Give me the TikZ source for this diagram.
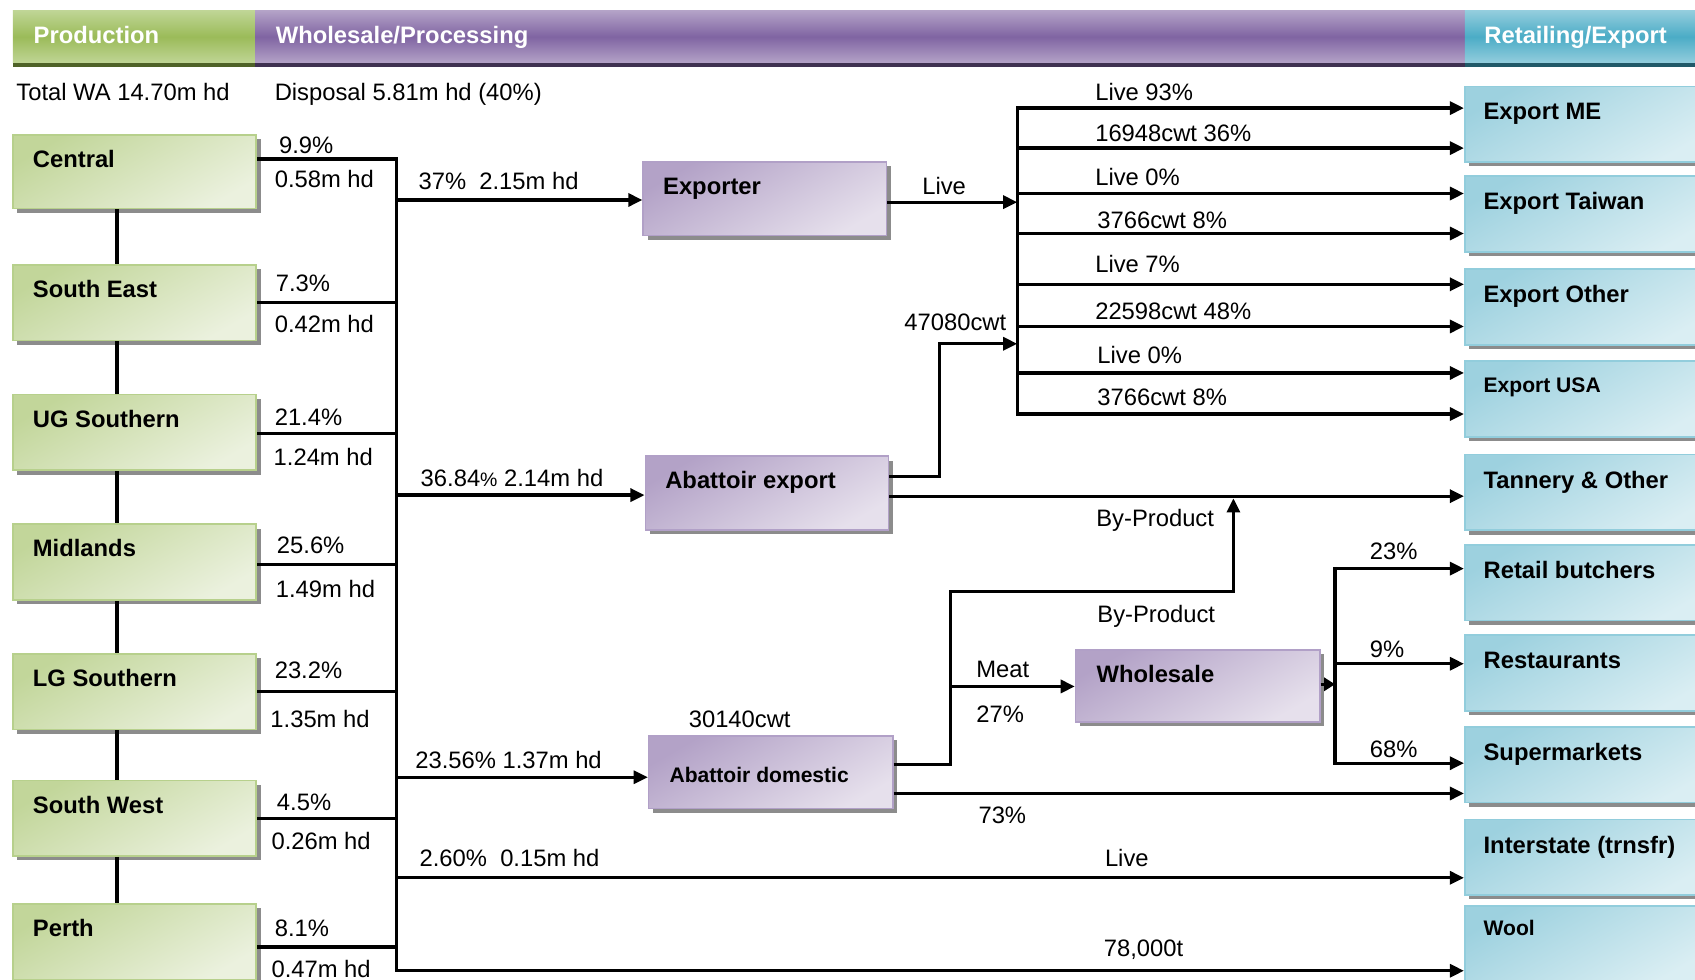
\documentclass[tikz,border=0pt]{standalone}
\usepackage{fontspec}
\setmainfont{Liberation Sans}
\usetikzlibrary{arrows.meta,calc,shadows}
\definecolor{gDark}{HTML}{C2D69A}
\definecolor{gLight}{HTML}{EBF1DE}
\definecolor{gBorder}{HTML}{B7D08C}
\definecolor{pDark}{HTML}{B3A2C7}
\definecolor{pLight}{HTML}{E6E0EC}
\definecolor{pBorder}{HTML}{B1A0C7}
\definecolor{tDark}{HTML}{9DD1DF}
\definecolor{tLight}{HTML}{DAEEF3}
\definecolor{tBorder}{HTML}{92CDDC}
\definecolor{hgLt}{HTML}{BFD595}
\definecolor{hgMid}{HTML}{9BBB59}
\definecolor{hgDk}{HTML}{4F6228}
\definecolor{hpLt}{HTML}{B3A2C7}
\definecolor{hpMid}{HTML}{8064A2}
\definecolor{hpDk}{HTML}{3F3151}
\definecolor{htLt}{HTML}{93CDDD}
\definecolor{htMid}{HTML}{4BACC6}
\definecolor{htDk}{HTML}{215968}
\begin{document}
\begin{tikzpicture}[x=1pt,y=-1pt,
  every node/.style={font=\fontsize{22}{26}\selectfont},
  lbl/.style={anchor=west,inner sep=0pt,text height=16pt,text depth=0pt},
  rlbl/.style={lbl,anchor=east},
  btxt/.style={lbl,font=\fontsize{22}{26}\selectfont\bfseries},
  sbtxt/.style={anchor=west,inner sep=0pt,text height=14pt,text depth=0pt,font=\fontsize{19.5}{23}\selectfont\bfseries},
  htxt/.style={btxt,text=white},
  box/.style={rectangle,inner sep=0pt,minimum width=225pt,minimum height=70pt,line width=1.5pt,
    drop shadow={shadow xshift=4pt,shadow yshift=-4pt,fill=black!45,opacity=1}},
  gbox/.style={box,draw=gBorder,top color=gDark,bottom color=gLight,shading angle=30},
  pbox/.style={box,draw=pBorder,top color=pDark,bottom color=pLight,shading angle=30},
  tbox/.style={box,draw=tBorder,top color=tDark,bottom color=tLight,shading angle=30},
  ln/.style={line width=3pt},
  arr/.style={ln,-{Triangle[length=13pt,width=12pt]}},
  sarr/.style={ln,-{Triangle[length=10pt,width=12pt]}}
]
\useasboundingbox (0,0) rectangle (1568,906);
\fill[white] (0,0) rectangle (1568,906);

% header
\shade[top color=hgLt,bottom color=hgLt,middle color=hgMid] (12,10) rectangle (236,58);
\fill[hgDk] (12,58) rectangle (236,62);
\shade[top color=hpLt,bottom color=hpLt,middle color=hpMid] (236,10) rectangle (1355,58);
\fill[hpDk] (236,58) rectangle (1355,62);
\shade[top color=htLt,bottom color=htLt,middle color=htMid] (1355,10) rectangle (1580,58);
\fill[htDk] (1355,58) rectangle (1580,62);
\node[htxt] (hprod) at (31,32) {Production};
\node[htxt] (hwhole) at (255,32) {Wholesale/Processing};
\node[htxt] (hret) at (1373,32) {Retailing/Export};

\node[lbl] (total) at (15,85) {Total WA 14.70m hd};
\node[lbl] (disp) at (254,85) {Disposal 5.81m hd (40\%)};

% production boxes
\node[gbox,minimum height=68pt] (central) at (124.5,159) {};
\node[gbox] (se) at (124.5,280) {};
\node[gbox] (ug) at (124.5,400) {};
\node[gbox] (mid) at (124.5,520) {};
\node[gbox] (lg) at (124.5,640) {};
\node[gbox] (sw) at (124.5,757) {};
\node[gbox] (perth) at (124.5,871) {};
\foreach \n/\t in {central/Central,se/South East,ug/UG Southern,mid/Midlands,lg/LG Southern,sw/South West,perth/Perth}
  \node[btxt] at ($(\n.north west)+(19,23)$) {\t};

% production links
\foreach \a/\b in {central/se,se/ug,ug/mid,mid/lg,lg/sw,sw/perth}
  \draw[ln] ($(\a.south west)+(97,0)$) -- ($(\b.north west)+(97,0)$);

% labels
\node[lbl] at (258,134) {9.9\%};   \node[lbl] at (254,165) {0.58m hd};
\node[lbl] at (255,262) {7.3\%};   \node[lbl] at (254,300) {0.42m hd};
\node[lbl] at (254,386) {21.4\%};  \node[lbl] at (253,423) {1.24m hd};
\node[lbl] at (256,504) {25.6\%};  \node[lbl] at (255,545) {1.49m hd};
\node[lbl] at (254,620) {23.2\%};  \node[lbl] at (250,665) {1.35m hd};
\node[lbl] at (256,742) {4.5\%};   \node[lbl] at (251,778) {0.26m hd};
\node[lbl] at (254,858) {8.1\%};   \node[lbl] at (251,896) {0.47m hd};

% collector
\coordinate (colTop) at (367,145.5);
\coordinate (colBot) at (367,899.5);
\draw[ln] (colTop) -- (colBot);
\foreach \n/\y in {central/147,se/280,ug/401,mid/522,lg/640,sw/757,perth/876}
  \draw[ln] (\n.east |- 0,\y) -- (colTop |- 0,\y);

% processing boxes
\node[pbox,minimum height=68pt] (exporter) at (707.5,184) {};
\node[pbox,minimum height=68pt] (abexp) at (709.5,456) {};
\node[pbox,minimum height=67pt,minimum width=226pt] (abdom) at (713,714.5) {};
\node[pbox,minimum height=67pt,minimum width=226pt] (whole) at (1108,634.5) {};
\node[btxt] at ($(exporter.north west)+(19,23)$) {Exporter};
\node[btxt] at ($(abexp.north west)+(19,23)$) {Abattoir export};
\node[sbtxt] at ($(abdom.north west)+(20,37)$) {Abattoir domestic};
\node[btxt] at ($(whole.north west)+(20,23)$) {Wholesale};

% retail boxes
\node[tbox] (me) at (1467.5,115) {};
\node[tbox] (tw) at (1467.5,198) {};
\node[tbox] (ot) at (1467.5,284) {};
\node[tbox] (usa) at (1467.5,369) {};
\node[tbox] (tan) at (1467.5,455.5) {};
\node[tbox] (rb) at (1467.5,539) {};
\node[tbox] (rest) at (1467.5,622.5) {};
\node[tbox] (sup) at (1467.5,707.5) {};
\node[tbox] (inter) at (1467.5,793) {};
\node[tbox] (wool) at (1467.5,873) {};
\node[btxt] at ($(me.north west)+(18,23)$) {Export ME};
\node[btxt] at ($(tw.north west)+(18,24)$) {Export Taiwan};
\node[btxt] at ($(ot.north west)+(18,24)$) {Export Other};
\node[sbtxt] at ($(usa.north west)+(18,23)$) {Export USA};
\node[btxt] at ($(tan.north west)+(18,24)$) {Tannery \& Other};
\node[btxt] at ($(rb.north west)+(18,24)$) {Retail butchers};
\node[btxt] at ($(rest.north west)+(18,24)$) {Restaurants};
\node[btxt] at ($(sup.north west)+(18,24)$) {Supermarkets};
\node[btxt] at ($(inter.north west)+(18,24)$) {Interstate (trnsfr)};
\node[sbtxt] at ($(wool.north west)+(18,21)$) {Wool};

% branches from collector
\draw[arr] (colTop |- 0,185) -- (exporter.west |- 0,185);
\node[lbl] at (387,167) {37\%~~2.15m hd};
\draw[arr] (colTop |- 0,458) -- (abexp.west |- 0,458);
\node[lbl] at (389,442) {36.84{\fontsize{18}{20}\selectfont\%} 2.14m hd};
\draw[arr] (colTop |- 0,719) -- (abdom.west |- 0,719);
\node[lbl] at (384,703) {23.56\% 1.37m hd};
\node[lbl] at (637,665) {30140cwt};
\draw[arr] (colTop |- 0,812) -- (inter.west |- 0,812);
\node[lbl] at (388,794) {2.60\%~~0.15m hd};
\node[lbl] at (1022,794) {Live};
\draw[arr] (colTop |- 0,898) -- (wool.west |- 0,898);
\node[lbl] at (1021,877) {78,000t};

% export bus
\coordinate (ebTop) at (941,98.5);
\coordinate (ebBot) at (941,384.5);
\draw[ln] (ebTop) -- (ebBot);
\draw[arr] (exporter.east |- 0,187) -- (ebTop |- 0,187);
\node[lbl] at (853,172) {Live};
\foreach \y/\t in {100/me,137/me,179/tw,216/tw,263/ot,302/ot,345/usa,383/usa}
  \draw[arr] (ebTop |- 0,\y) -- (\t.west |- 0,\y);
\node[lbl] at (1013,85) {Live 93\%};
\node[lbl] at (1013,123) {16948cwt 36\%};
\node[lbl] at (1013,164) {Live 0\%};
\node[lbl] at (1015,203) {3766cwt 8\%};
\node[lbl] at (1013,244) {Live 7\%};
\node[lbl] at (1013,288) {22598cwt 48\%};
\node[lbl] at (1015,328) {Live 0\%};
\node[lbl] at (1015,367) {3766cwt 8\%};

% abattoir export outputs
\draw[arr] (abexp.east |- 0,441) -- (869,441) -- (869,318) -- (ebTop |- 0,318);
\node[rlbl] at (931,298) {47080cwt};
\draw[arr] (abexp.east |- 0,459) -- (tan.west |- 0,459);
\node[lbl] at (1014,479) {By-Product};

% abattoir domestic outputs
\coordinate (bp) at (1141,461);
\draw[arr] (abdom.east |- 0,707) -- (879,707) -- (879,547) -- (bp |- 0,547) -- (bp);
\node[lbl] at (1015,568) {By-Product};
\draw[arr] (879,635) -- (whole.west |- 0,635);
\node[lbl] at (903,619) {Meat};
\node[lbl] at (903,660) {27\%};
\draw[arr] (abdom.east |- 0,734) -- (sup.west |- 0,734);
\node[lbl] at (905,754) {73\%};

% wholesale outputs
\coordinate (wbTop) at (1235,524.5);
\coordinate (wbBot) at (1235,707.5);
\draw[ln] (wbTop) -- (wbBot);
\draw[sarr] (whole.east |- 0,633) -- (wbTop |- 0,633);
\foreach \y/\t in {526/rb,614/rest,706/sup}
  \draw[arr] (wbTop |- 0,\y) -- (\t.west |- 0,\y);
\node[lbl] at (1267,510) {23\%};
\node[lbl] at (1267,600) {9\%};
\node[lbl] at (1267,693) {68\%};
\end{tikzpicture}
\end{document}
